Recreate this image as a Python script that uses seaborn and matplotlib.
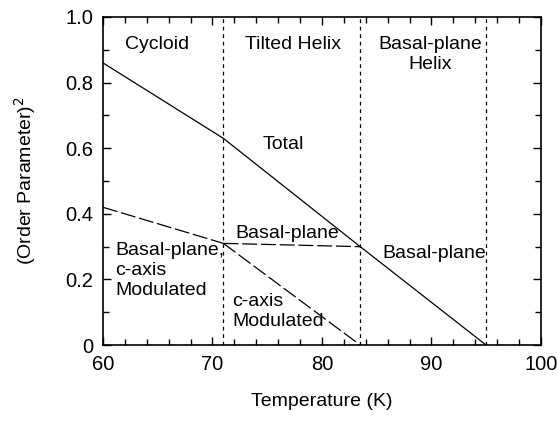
import matplotlib
matplotlib.use("Agg")
import matplotlib.pyplot as plt
import seaborn as sns
import pandas as pd
from matplotlib.ticker import MultipleLocator, FixedLocator, FixedFormatter

# Data
temp_total = [60, 71, 83.5, 95]
total = [0.86, 0.63, 0.30, 0.0]
temp_mixed = [60, 71]
mixed = [0.42, 0.31]
temp_basal = [71, 83.5]
basal = [0.31, 0.30]
temp_caxis = [71, 83.5]
caxis = [0.31, 0.0]
boundaries = [71, 83.5, 95]
xticks = [60, 70, 80, 90, 100]
xtick_labels = ["60", "70", "80", "90", "100"]
yticks = [0, 0.2, 0.4, 0.6, 0.8, 1.0]
ytick_labels = ["0", "0.2", "0.4", "0.6", "0.8", "1.0"]

sns.set_style("ticks")
plt.rcParams['font.family'] = ['Liberation Sans', 'DejaVu Sans']
plt.rcParams['text.color'] = 'black'
plt.rcParams['axes.labelcolor'] = 'black'

fig = plt.figure(figsize=(5.57, 4.25), dpi=100)
ax = fig.add_axes([0.185, 0.188, 0.786, 0.772])

lw = 0.9
sns.lineplot(x=temp_total, y=total, ax=ax, color="black", linewidth=lw)
for tx, ty in [(temp_mixed, mixed), (temp_basal, basal), (temp_caxis, caxis)]:
    sns.lineplot(x=tx, y=ty, ax=ax, color="black", linewidth=lw)
    ax.lines[-1].set_dashes([12, 3])
for b in boundaries:
    ax.axvline(b, color="black", linewidth=0.9, dashes=[3, 3])

ax.set_xlim(60, 100)
ax.set_ylim(0, 1.0)
ax.xaxis.set_major_locator(FixedLocator(xticks))
ax.xaxis.set_major_formatter(FixedFormatter(xtick_labels))
ax.yaxis.set_major_locator(FixedLocator(yticks))
ax.yaxis.set_major_formatter(FixedFormatter(ytick_labels))
ax.xaxis.set_minor_locator(MultipleLocator(2))
ax.yaxis.set_minor_locator(MultipleLocator(0.1))
ax.tick_params(which="both", direction="in", top=True, right=True, width=1.0,
               colors="black", labelcolor="black")
ax.tick_params(which="major", length=6, labelsize=14.5, pad=7)
ax.tick_params(which="minor", length=4)
for s in ax.spines.values():
    s.set_linewidth(1.2)
    s.set_color("black")

ax.set_xlabel("Temperature (K)", fontsize=14, labelpad=14)
ax.set_ylabel("(Order Parameter)$^2$", fontsize=14, labelpad=20)

fs = 14
ls = 1.25
ax.text(64.9, 0.915, "Cycloid", ha="center", va="center", fontsize=fs)
ax.text(77.4, 0.915, "Tilted Helix", ha="center", va="center", fontsize=fs)
ax.text(89.9, 0.885, "Basal-plane\nHelix", ha="center", va="center", fontsize=fs, linespacing=ls)
ax.text(76.5, 0.61, "Total", ha="center", va="center", fontsize=fs)
ax.text(76.8, 0.34, "Basal-plane", ha="center", va="center", fontsize=fs)
ax.text(90.3, 0.28, "Basal-plane", ha="center", va="center", fontsize=fs)
ax.text(61.1, 0.228, "Basal-plane,\nc-axis\nModulated", ha="left", va="center", fontsize=fs, linespacing=ls)
ax.text(71.8, 0.102, "c-axis\nModulated", ha="left", va="center", fontsize=fs, linespacing=ls)

fig.savefig("out.png", dpi=100)
